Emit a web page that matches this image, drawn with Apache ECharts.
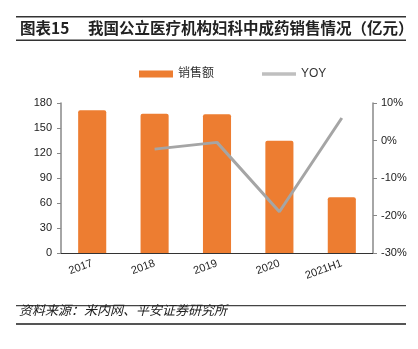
<!DOCTYPE html>
<html>
<head>
<meta charset="utf-8">
<script src="https://cdn.jsdelivr.net/npm/echarts@6/dist/echarts.min.js"></script>
<style>
  html, body { margin: 0; padding: 0; background: #fff; }
  #chart { width: 418px; height: 349px; }
</style>
</head>
<body>
<div id="chart"></div>
<script>
// 妇科中成药销售额（亿元）与同比增速
const categories = ['2017', '2018', '2019', '2020', '2021H1'];
const salesValues = [171.2, 167.2, 166.4, 134.8, 66.8];
const yoyValues = [null, -2.3, -0.5, -19.0, 6.0];
const leftTicks = { min: 0, max: 180, interval: 30 };
const rightTicks = { min: -30, max: 10, interval: 10 };

const cjkFont = '"Noto Sans CJK SC", "Liberation Sans", Arial, sans-serif';
const latinFont = '"Liberation Sans", Arial, "Noto Sans CJK SC", sans-serif';
const chart = echarts.init(document.getElementById('chart'), null, { renderer: 'canvas' });

chart.setOption({
  animation: false,
  textStyle: { fontFamily: latinFont },
  grid: { left: 61, right: 45, top: 103, bottom: 96, containLabel: false },
  legend: {
    top: 63,
    left: 134,
    itemGap: 48,
    textStyle: { fontSize: 12, color: '#333', fontFamily: latinFont },
    data: [
      { name: '销售额', icon: 'rect', itemStyle: { color: '#ED7D31' } },
      { name: 'YOY', icon: 'path://M0,0 L40,0 L40,4 L0,4 Z', itemStyle: { color: '#BFBFBF' } }
    ],
    itemWidth: 34,
    itemHeight: 7
  },
  xAxis: {
    type: 'category',
    data: categories,
    axisLine: { lineStyle: { color: '#333', width: 1 } },
    axisTick: { inside: true, length: 4, lineStyle: { color: '#333' } },
    axisLabel: { rotate: 20, fontSize: 11, color: '#222', margin: 10 }
  },
  yAxis: [
    {
      type: 'value',
      min: leftTicks.min, max: leftTicks.max, interval: leftTicks.interval,
      axisLine: { show: true, lineStyle: { color: '#888', width: 1.5 } },
      axisTick: { show: true, length: 4, lineStyle: { color: '#888' } },
      splitLine: { show: false },
      axisLabel: { fontSize: 11, color: '#222', margin: 9 }
    },
    {
      type: 'value',
      min: rightTicks.min, max: rightTicks.max, interval: rightTicks.interval,
      axisLine: { show: true, lineStyle: { color: '#888', width: 1.5 } },
      axisTick: { show: true, length: 4, lineStyle: { color: '#888' } },
      splitLine: { show: false },
      axisLabel: { fontSize: 11, color: '#222', margin: 8, formatter: '{value}%' }
    }
  ],
  series: [
    {
      name: '销售额',
      type: 'bar',
      data: salesValues,
      barWidth: '45%',
      itemStyle: { color: '#ED7D31', borderRadius: [2, 2, 0, 0] }
    },
    {
      name: 'YOY',
      type: 'line',
      yAxisIndex: 1,
      data: yoyValues,
      symbol: 'none',
      lineStyle: { color: '#A5A5A5', width: 3 },
      itemStyle: { color: '#A5A5A5' }
    }
  ],
  graphic: [
    { type: 'rect', shape: { x: 16, y: 16, width: 390, height: 1.5 }, style: { fill: '#333' } },
    {
      type: 'text', left: 20, top: 20,
      style: { text: '图表15', font: 'bold 15.5px ' + cjkFont, fill: '#222' }
    },
    {
      type: 'text', left: 88, top: 20,
      style: { text: '我国公立医疗机构妇科中成药销售情况（亿元）', font: 'bold 15.5px ' + cjkFont, fill: '#222' }
    },
    { type: 'rect', shape: { x: 16, y: 39.5, width: 390, height: 1.5 }, style: { fill: '#333' } },
    { type: 'rect', shape: { x: 16, y: 305, width: 390, height: 1.2 }, style: { fill: '#444' } },
    {
      type: 'text', left: 19, top: 304,
      style: { text: '资料来源：米内网、平安证券研究所', font: 'italic 13px ' + cjkFont, fill: '#222' }
    },
    { type: 'rect', shape: { x: 16, y: 323, width: 390, height: 2 }, style: { fill: '#555' } }
  ]
});
</script>
</body>
</html>
